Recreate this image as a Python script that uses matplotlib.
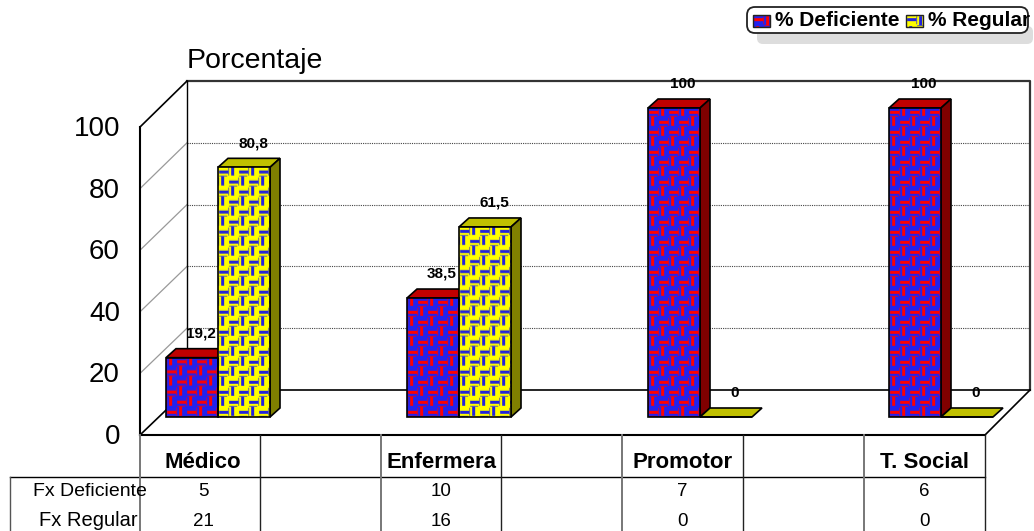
#! /usr/bin/env python3
# -*- Coding: UTF-8 -*-

import numpy as np
import matplotlib
matplotlib.use("Agg")
import matplotlib.pyplot as plt
from matplotlib.colors import to_rgb
from matplotlib.patches import Polygon, FancyBboxPatch, Rectangle
from matplotlib.transforms import Affine2D

categories = ["Médico", "Enfermera", "Promotor", "T. Social"]
pct_deficiente = [19.2, 38.5, 100, 100]
pct_regular = [80.8, 61.5, 0, 0]
pct_deficiente_labels = ["19,2", "38,5", "100", "100"]
pct_regular_labels = ["80,8", "61,5", "0", "0"]
fx_deficiente = [5, 10, 7, 6]
fx_regular = [21, 16, 0, 0]
y_ticks = [0, 20, 40, 60, 80, 100]

plt.rcParams["font.family"] = ["Liberation Sans", "DejaVu Sans"]

W, H = 1034, 531
fig = plt.figure(figsize=(W / 100, H / 100), dpi=100)
ax = fig.add_axes([0, 0, 1, 1])

# one category = 241 px, one percent = 3.09 px, bars meet at x = 218 + 241 i, floor at y = 417
PX_X = 241.0
PX_Y = 3.09
ax.set_xlim(-218 / PX_X, (W - 218) / PX_X)
ax.set_ylim((417 - H) / PX_Y, 417 / PX_Y)
ax.axis("off")

# furniture is in screen pixels, y going down
px = Affine2D().scale(1, -1).translate(0, H)


def line(xs, ys, color="black", lw=1.2, ls="-", z=1):
    ax.plot(xs, ys, color=color, lw=lw, ls=ls, zorder=z, transform=px, clip_on=False)


def weave(base, dash):
    # basket weave, one repeat is 20 px: two lines of base colour with a dash between
    h = np.zeros((10, 10))
    h[3:6, 1:10] = 1
    h[0, 1:9] = 0.7
    v = h.T
    m = np.block([[h, v], [v, h]])
    m = (4 * m + np.roll(m, 1, 0) + np.roll(m, 1, 1)) / 6
    m = m[..., None]
    return np.array(to_rgb(base)) * (1 - m) + np.array(to_rgb(dash)) * m


def bars3d(xs, vals, base, dash, top_c, side_c):
    width = 52 / PX_X
    dx, dy = 10 / PX_X, 9 / PX_Y
    tile = weave(base, dash)
    rects = ax.bar(xs, vals, width=width, align="edge", facecolor="none",
                   edgecolor="black", lw=1.2, zorder=4)
    for r, x0, v in zip(rects, xs, vals):
        x1 = x0 + width
        ax.add_patch(Polygon([(x0, v), (x0 + dx, v + dy), (x1 + dx, v + dy), (x1, v)],
                             facecolor=top_c, edgecolor="black", lw=1.2, zorder=3))
        if v > 0:
            ax.add_patch(Polygon([(x1, 0), (x1 + dx, dy), (x1 + dx, v + dy), (x1, v)],
                                 facecolor=side_c, edgecolor="black", lw=1.2, zorder=3))
            nx = int(width * PX_X / 20) + 2
            ny = int(v * PX_Y / 20) + 2
            im = ax.imshow(np.tile(tile, (ny, nx, 1)), origin="lower", aspect="auto", zorder=3.5,
                           extent=(x0, x0 + nx * 20 / PX_X, 0, ny * 20 / PX_Y),
                           interpolation="bilinear")
            im.set_clip_path(Rectangle((x0, 0), width, v, transform=ax.transData))


# walls and floor
back_x0, back_x1, back_top, back_bot = 187, 1030, 81, 390
front_x0, front_x1, front_top, front_bot = 140, 985, 127, 435
for v in y_ticks[1:-1]:
    yb = back_bot - (back_bot - back_top) * v / 100
    yf = front_bot - (front_bot - front_top) * v / 100
    line([back_x0, back_x1], [yb, yb], color="#444444", lw=0.8, ls=(0, (1, 1)))
    line([front_x0, back_x0], [yf, yb], color="#999999", lw=0.9)
line([back_x0, back_x1, back_x1], [back_top, back_top, back_bot], color="#333333", lw=1.6)
line([back_x0, back_x0], [back_top, back_bot], lw=1.0)
line([back_x0, back_x1], [back_bot, back_bot], lw=1.2)
line([front_x0, back_x0], [front_top, back_top])
line([front_x0, back_x0], [front_bot, back_bot])
line([front_x1, back_x1], [front_bot, back_bot])
line([front_x0, front_x0], [front_top, front_bot], lw=1.5)
line([front_x0, front_x1], [front_bot, front_bot], lw=1.5)

# bars
pos = np.arange(len(categories))
bars3d(pos - 52 / PX_X, pct_deficiente, "#2222EE", "#FF0000", "#C00000", "#800000")
bars3d(pos, pct_regular, "#FFFF00", "#2222DD", "#C0C000", "#808000")

# value labels
for i in pos:
    for x0, v, s in [(i - 52 / PX_X, pct_deficiente[i], pct_deficiente_labels[i]),
                     (i, pct_regular[i], pct_regular_labels[i])]:
        ax.annotate(s, (x0 + 26 / PX_X, v), xytext=(6.5, 17.5), textcoords="offset points",
                    ha="center", va="center", fontsize=11, fontweight="bold", zorder=6)

# y axis text
for v in y_ticks:
    yf = front_bot - (front_bot - front_top) * v / 100
    ax.text(120, yf + 2, str(v), ha="right", va="center", fontsize=20, transform=px)
ax.text(187, 61, "Porcentaje", ha="left", va="center", fontsize=20.5, transform=px)

# data table under the chart
col_edges = [140, 260, 381, 501, 622, 743, 864, 985]
table_mid, table_bot = 477, H
line([10, front_x1], [table_mid, table_mid], lw=1.0)
line([10, 10], [table_mid, table_bot], color="#555555", lw=1.0)
for i, xe in enumerate(col_edges):
    line([xe, xe], [front_bot, table_bot], color="#777777" if i % 2 == 0 and i < 7 else "#222222",
         lw=1.4 if i % 2 == 0 and i < 7 else 1.0, z=2)
for i, name in enumerate(categories):
    cx = (col_edges[2 * i] + col_edges[2 * i + 1]) / 2 + (3 if i == 0 else 0)
    ax.text(cx, 462, name, ha="center", va="center", fontsize=16, fontweight="bold", transform=px)
    ax.text(cx, 492, str(fx_deficiente[i]), ha="center", va="center", fontsize=13.5, transform=px)
    ax.text(cx, 521, str(fx_regular[i]), ha="center", va="center", fontsize=13.5, transform=px)
ax.text(147, 492, "Fx Deficiente", ha="right", va="center", fontsize=14, transform=px, zorder=3)
ax.text(138, 521, "Fx Regular", ha="right", va="center", fontsize=14.5, transform=px, zorder=3)

# legend with shadow
ax.add_patch(FancyBboxPatch((757, 26), 276, 18, boxstyle="round,pad=0,rounding_size=6",
                            facecolor="#DDDDDD", edgecolor="none", transform=px, zorder=1))
ax.add_patch(FancyBboxPatch((747, 7), 281, 26, boxstyle="round,pad=0,rounding_size=8",
                            facecolor="white", edgecolor="#222222", lw=1.3, transform=px, zorder=2))
for x0, xt, base, dash, s in [(753, 775, "#2222EE", "#FF0000", "% Deficiente"),
                              (906, 928, "#FFFF00", "#2222DD", "% Regular")]:
    ax.imshow(weave(base, dash)[:12, :17], extent=(x0, x0 + 17, 27, 15), transform=px, aspect="auto", zorder=3)
    ax.add_patch(Rectangle((x0, 15), 17, 12, facecolor="none", edgecolor="#222222", lw=1, transform=px, zorder=4))
    ax.text(xt, 21, s, ha="left", va="center", fontsize=15, fontweight="bold", transform=px, zorder=4)

ax.set_xlim(-218 / PX_X, (W - 218) / PX_X)
ax.set_ylim((417 - H) / PX_Y, 417 / PX_Y)
fig.savefig("out.png", dpi=100)
